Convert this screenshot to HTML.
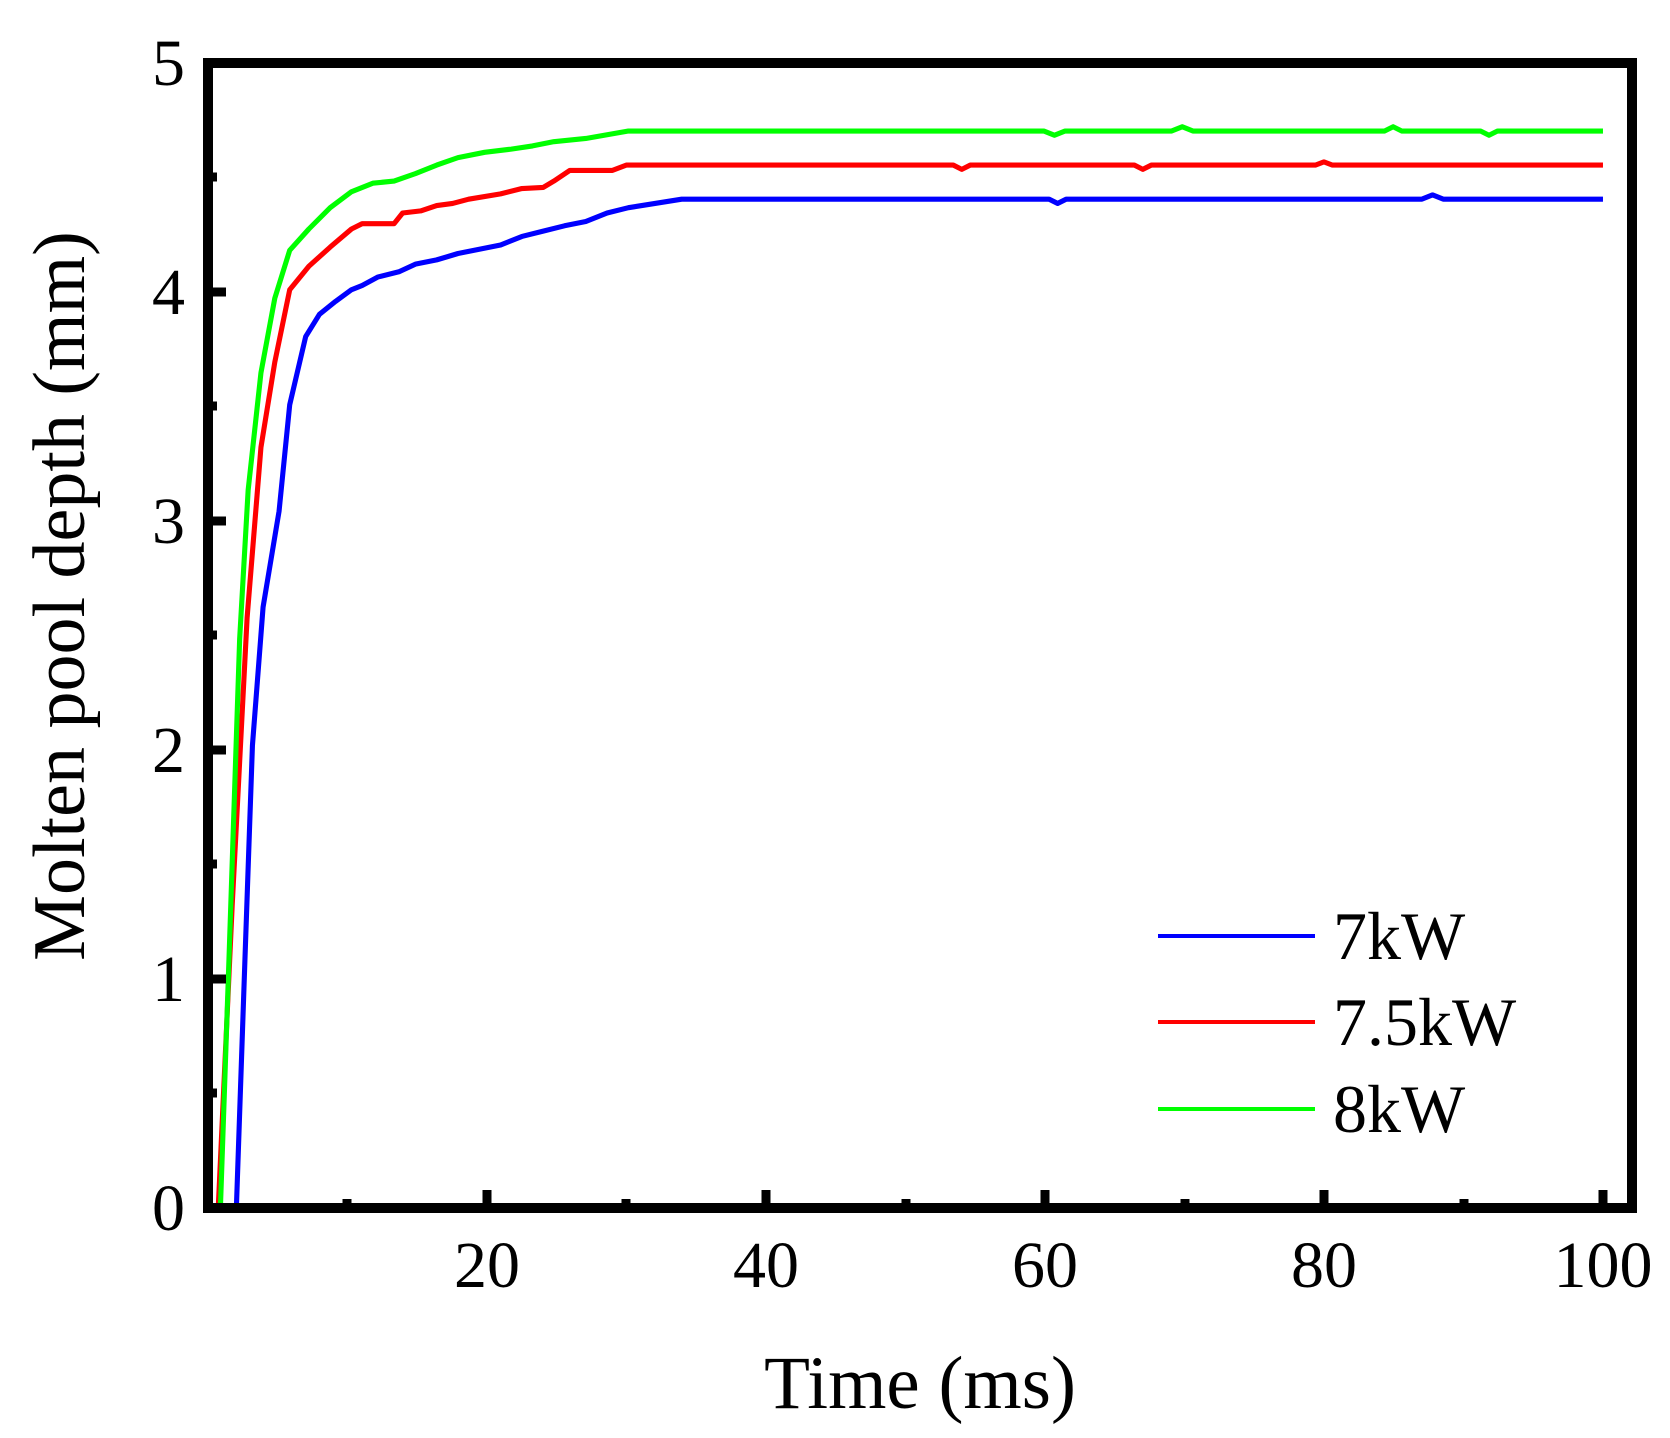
<!DOCTYPE html>
<html><head><meta charset="utf-8"><style>
html,body{margin:0;padding:0;background:#fff;}
svg{display:block;}
text{font-family:"Liberation Serif","Times New Roman",serif;fill:#000;}
</style></head><body>
<svg width="1670" height="1438" viewBox="0 0 1670 1438" xmlns="http://www.w3.org/2000/svg">
<g transform="scale(1.0651)" fill="none" stroke-width="4.8" stroke-linejoin="round">
<polyline stroke="#0000ff" points="207,1132 222,1132 230,900 237,700 247,570 262,480 272,380 287,316 300,295 315,283 330,272 340,268 355,260 375,255 390,248 410,244 430,238 450,234 470,230 490,222 510,217 530,212 550,208 570,200 590,195 615,191 640,187 985,187 993,191 1001,187 1335,187 1345,183 1355,187 1505,187"/>
<polyline stroke="#ff0000" points="205,1132 218,850 232,580 245,420 258,340 272,272 290,250 310,232 330,215 340,210 370,210 378,200 395,198 410,193 425,191 440,187 470,182 490,177 510,176 520,170 535,160 575,160 588,155 895,155 903,159 911,155 1065,155 1073,159 1081,155 1235,155 1243,152 1251,155 1505,155"/>
<polyline stroke="#00ff00" points="207,1132 215,900 225,600 233,460 245,350 258,280 272,235 290,215 310,195 330,180 350,172 370,170 390,163 410,155 430,148 455,143 480,140 500,137 520,133 550,130 590,123 980,123 990,127 1000,123 1100,123 1110,119 1120,123 1300,123 1308,119 1316,123 1390,123 1398,127 1406,123 1505,123"/>
</g>
<rect x="208" y="63" width="1424" height="1145" fill="none" stroke="#000" stroke-width="10"/>
<g stroke="#000" stroke-width="9">
<line x1="487" y1="1208" x2="487" y2="1190"/>
<line x1="766" y1="1208" x2="766" y2="1190"/>
<line x1="1045" y1="1208" x2="1045" y2="1190"/>
<line x1="1324" y1="1208" x2="1324" y2="1190"/>
<line x1="1603" y1="1208" x2="1603" y2="1190"/>
<line x1="347" y1="1208" x2="347" y2="1199"/>
<line x1="626" y1="1208" x2="626" y2="1199"/>
<line x1="906" y1="1208" x2="906" y2="1199"/>
<line x1="1185" y1="1208" x2="1185" y2="1199"/>
<line x1="1464" y1="1208" x2="1464" y2="1199"/>
<line x1="208" y1="979" x2="226" y2="979"/>
<line x1="208" y1="750" x2="226" y2="750"/>
<line x1="208" y1="521" x2="226" y2="521"/>
<line x1="208" y1="292" x2="226" y2="292"/>
<line x1="208" y1="1093" x2="217" y2="1093"/>
<line x1="208" y1="864" x2="217" y2="864"/>
<line x1="208" y1="635" x2="217" y2="635"/>
<line x1="208" y1="406" x2="217" y2="406"/>
<line x1="208" y1="177" x2="217" y2="177"/>
</g>
<g font-size="66" text-anchor="middle">
<text x="487" y="1287">20</text>
<text x="766" y="1287">40</text>
<text x="1045" y="1287">60</text>
<text x="1324" y="1287">80</text>
<text x="1603" y="1287">100</text>
</g>
<g font-size="66" text-anchor="end">
<text x="185" y="1230">0</text>
<text x="185" y="1001">1</text>
<text x="185" y="772">2</text>
<text x="185" y="543">3</text>
<text x="185" y="314">4</text>
<text x="185" y="85">5</text>
</g>
<text x="920" y="1408" font-size="75" text-anchor="middle">Time (ms)</text>
<text transform="translate(84,596) rotate(-90)" font-size="74" text-anchor="middle">Molten pool depth (mm)</text>
<g stroke-width="4">
<line x1="1158" y1="936" x2="1315" y2="936" stroke="#0000ff"/>
<line x1="1158" y1="1022" x2="1315" y2="1022" stroke="#ff0000"/>
<line x1="1158" y1="1109" x2="1315" y2="1109" stroke="#00ff00"/>
</g>
<g font-size="68">
<text x="1333" y="959">7kW</text>
<text x="1333" y="1045">7.5kW</text>
<text x="1333" y="1132">8kW</text>
</g>
</svg>
</body></html>
